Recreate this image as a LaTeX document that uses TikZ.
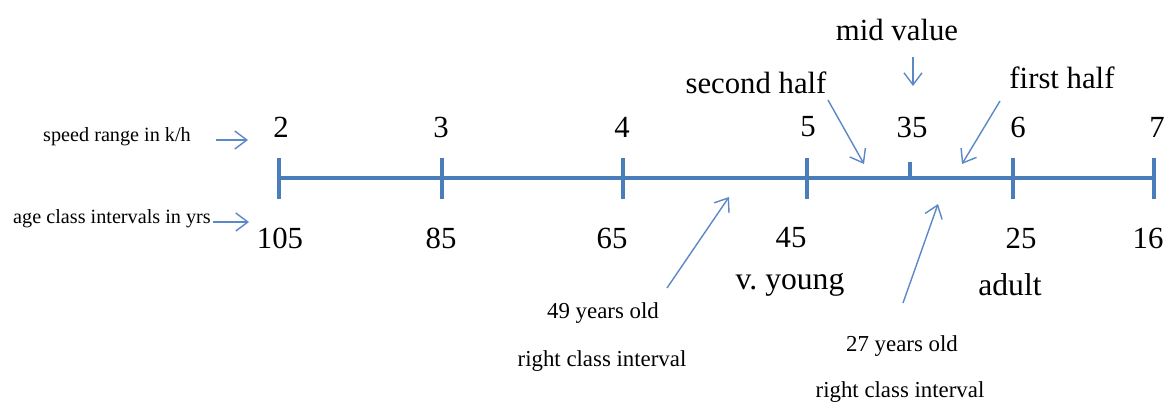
\documentclass[tikz,border=0pt]{standalone}
\usepackage{fontspec}
\setmainfont{Liberation Serif}
\usetikzlibrary{arrows.meta}
\definecolor{axisblue}{HTML}{4A7EBB}
\definecolor{arrowblue}{HTML}{5B88C6}
\begin{document}
\begin{tikzpicture}[x=0.02cm,y=-0.02cm,
    big/.style={font=\fontsize{17.5}{20}\selectfont},
    word/.style={font=\fontsize{18}{21}\selectfont},
    small/.style={font=\fontsize{11.5}{14}\selectfont},
    note/.style={font=\fontsize{13}{16}\selectfont},
    axis/.style={draw=axisblue, line width=2.1pt},
    pointer/.style={draw=arrowblue, line width=0.8pt, -{Straight Barb[length=2.4mm,width=3.6mm]}}]
    \useasboundingbox (0,0) rectangle (1174,406);

    % the line and its ticks
    \coordinate (left) at (279,178);
    \coordinate (right) at (1154,178);
    \draw[axis] (left) -- (right);
    \foreach \x in {279,442,623,807,1013,1154}
        \draw[axis] (\x,158) -- (\x,199);
    \draw[axis] (910,162) -- (910,178);

    % speeds above
    \node[big] (s2) at (281,127) {2};
    \node[big] (s3) at (441,127) {3};
    \node[big] (s4) at (622,127) {4};
    \node[big] (s5) at (808,127) {5};
    \node[big] (s35) at (912,127) {35};
    \node[big] (s6) at (1018,127) {6};
    \node[big] (s7) at (1157,127) {7};

    % ages below
    \node[big] (a105) at (280,238) {105};
    \node[big] (a85) at (441,238) {85};
    \node[big] (a65) at (612,238) {65};
    \node[big] (a45) at (791,238) {45};
    \node[big] (a25) at (1021,238) {25};
    \node[big] (a16) at (1148,238) {16};
    \node[word] (young) at (790,285) {v.\ young};
    \node[word] (adult) at (1010,285) {adult};

    % row names
    \node[small] (speed) at (117,137) {speed range in k/h};
    \node[small] (age) at (112,219) {age class intervals in yrs};
    \coordinate (speedto) at (248,140);
    \coordinate (ageto) at (249,222);
    \draw[pointer] (216,140) -- (speedto);
    \draw[pointer] (213,222) -- (ageto);

    % halves
    \node[big] (mid) at (897,30) {mid value};
    \node[big] (second) at (756,83) {second half};
    \node[big] (first) at (1062,78) {first half};
    \coordinate (midto) at (913,86);
    \coordinate (secondto) at (864,164);
    \coordinate (firstto) at (962,164);
    \draw[pointer] (913,57) -- (midto);
    \draw[pointer] (828,100) -- (secondto);
    \draw[pointer] (1000,101) -- (firstto);

    % the two ages
    \node[note] (old49) at (603,313) {49 years old};
    \node[note] (right49) at (602,361) {right class interval};
    \node[note] (old27) at (902,346) {27 years old};
    \node[note] (right27) at (900,392) {right class interval};
    \coordinate (to49) at (729,197);
    \coordinate (to27) at (938,204);
    \draw[pointer] (667,288) -- (to49);
    \draw[pointer] (903,303) -- (to27);
\end{tikzpicture}
\end{document}
